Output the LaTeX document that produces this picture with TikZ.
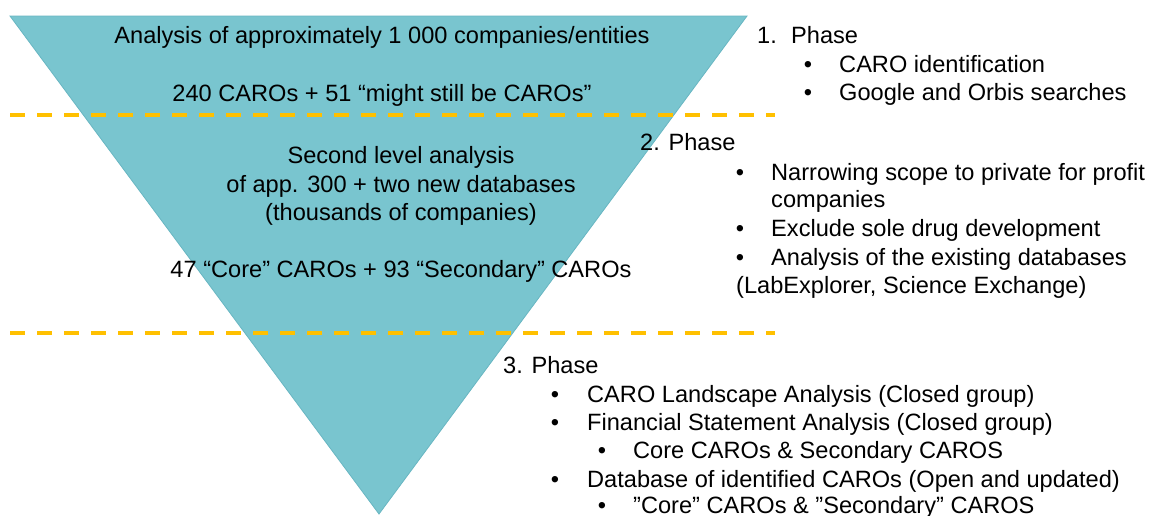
\documentclass[tikz,border=0pt]{standalone}
\usepackage{fontspec}
\setmainfont{Liberation Sans}
\usepackage{xcolor}

\definecolor{funnel}{RGB}{121,197,207}
\definecolor{funnelrim}{RGB}{104,182,194}
\definecolor{phaseline}{RGB}{255,192,0}

\tikzset{
  lbl/.style={inner sep=0pt, font=\fontsize{23.6}{28.6}\selectfont},
  mid/.style={lbl, anchor=base},
  flush/.style={lbl, anchor=base west},
  dot/.style={lbl, anchor=base},
  border/.style={phaseline, line width=4pt, dash pattern=on 15pt off 12pt}
}

\begin{document}
\begin{tikzpicture}[x=1pt,y=-1pt]
    \clip (0,0) rectangle (1151,515);

    % funnel
    \coordinate (tl) at (10,16);
    \coordinate (tr) at (747,16);
    \coordinate (tip) at (379,514);
    \filldraw[fill=funnel, draw=funnelrim, line width=0.8pt] (tl) -- (tr) -- (tip) -- cycle;

    % borders between the phases
    \coordinate (b1w) at (10,115);
    \coordinate (b1e) at (775,115);
    \coordinate (b2w) at (10,333);
    \coordinate (b2e) at (775,333);
    \draw[border] (b1w) -- (b1e);
    \draw[border] (b2w) -- (b2e);

    % inside the funnel
    \node (all) at (382,43) [mid] {Analysis of approximately 1 000 companies/entities};
    \node (first) at (382,101) [mid] {240 CAROs + 51 “might still be CAROs”};
    \node (sec1) at (401,163) [mid] {Second level analysis};
    \node (sec2) at (401,192) [mid] {of app. 300 + two new databases};
    \node (sec3) at (401,220) [mid] {(thousands of companies)};
    \node (second) at (401,277) [mid] {47 “Core” CAROs + 93 “Secondary” CAROs};

    % phase 1
    \node (p1n) at (757,43) [flush] {1.};
    \node (p1) at (791,43) [flush] {Phase};
    \node (p1a) at (808,72) [dot] {•};
    \node (p1at) at (839,72) [flush] {CARO identification};
    \node (p1b) at (808,100) [dot] {•};
    \node (p1bt) at (839,100) [flush] {Google and Orbis searches};

    % phase 2
    \node (p2) at (640,150) [flush] {2. Phase};
    \node (p2a) at (740,180) [dot] {•};
    \node (p2at) at (771,180) [flush] {Narrowing scope to private for profit};
    \node (p2at2) at (771,207) [flush] {companies};
    \node (p2b) at (740,236) [dot] {•};
    \node (p2bt) at (771,236) [flush] {Exclude sole drug development};
    \node (p2c) at (740,265) [dot] {•};
    \node (p2ct) at (771,265) [flush] {Analysis of the existing databases};
    \node (p2ct2) at (736,293) [flush] {(LabExplorer, Science Exchange)};

    % phase 3
    \node (p3) at (503,373) [flush] {3. Phase};
    \node (p3a) at (555,402) [dot] {•};
    \node (p3at) at (587,402) [flush] {CARO Landscape Analysis (Closed group)};
    \node (p3b) at (555,430) [dot] {•};
    \node (p3bt) at (587,430) [flush] {Financial Statement Analysis (Closed group)};
    \node (p3b1) at (602,458) [dot] {•};
    \node (p3b1t) at (633,458) [flush] {Core CAROs \& Secondary CAROS};
    \node (p3c) at (555,487) [dot] {•};
    \node (p3ct) at (587,487) [flush] {Database of identified CAROs (Open and updated)};
    \node (p3c1) at (602,513) [dot] {•};
    \node (p3c1t) at (633,513) [flush] {”Core” CAROs \& ”Secondary” CAROS};
\end{tikzpicture}
\end{document}
